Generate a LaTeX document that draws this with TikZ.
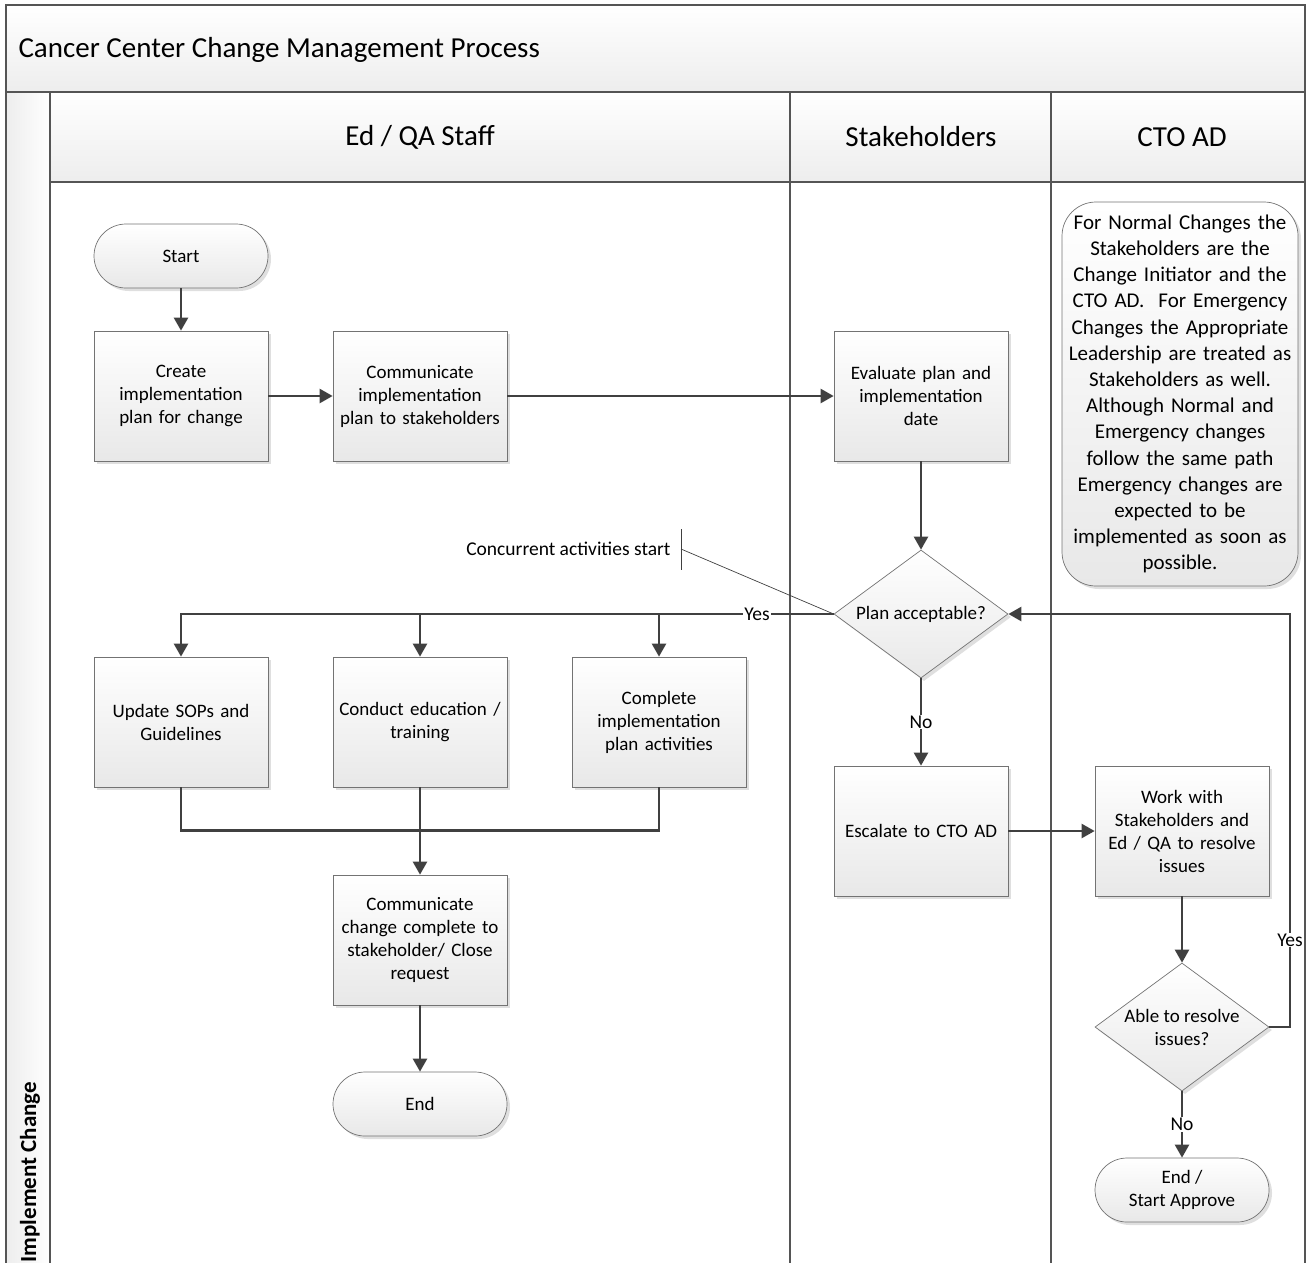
\documentclass[tikz,border=0pt]{standalone}
\usepackage{fontspec}
\setmainfont{Carlito}
\usetikzlibrary{shapes.geometric,arrows.meta,shadows}
\definecolor{linec}{HTML}{404040}
\definecolor{framec}{HTML}{555555}
\begin{document}
\begin{tikzpicture}[x=1pt,y=-1pt,
  frame/.style={draw=framec, line width=1.3pt},
  box/.style={draw=black!55, line width=0.7pt, top color=white, bottom color=black!9,
    drop shadow={shadow xshift=3pt, shadow yshift=-3pt, fill=black!25, opacity=0.5},
    font=\fontsize{19}{23}\selectfont, align=center},
  proc/.style={box, rectangle, minimum width=174pt, minimum height=130pt, text width=172pt, inner sep=1pt},
  term/.style={box, rectangle, rounded corners=32pt, minimum width=174pt, minimum height=64pt},
  dec/.style={box, diamond, minimum width=174pt, minimum height=128pt, inner sep=0pt},
  conn/.style={draw=linec, line width=2.4pt},
  arr/.style={conn, -{Triangle[length=13pt,width=14pt]}},
  lbl/.style={font=\fontsize{19.5}{22}\selectfont, fill=white, inner sep=1pt},
  hdr/.style={font=\fontsize{29}{34}\selectfont}
]
\useasboundingbox (0,0) rectangle (1306,1262);
\clip (0,0) rectangle (1306,1262);
% frame
\shade[top color=white, bottom color=black!7] (6,5) rectangle (1305,92);
\shade[top color=white, bottom color=black!7] (50,92) rectangle (1305,182);
\shade[left color=black!7, right color=white] (6,92) rectangle (50,1300);
\draw[frame] (6,5) rectangle (1305,1300);
\draw[frame] (6,92) -- (1305,92);
\draw[frame] (50,92) -- (50,1300);
\draw[frame] (50,182) -- (1305,182);
\draw[frame] (790,92) -- (790,1300);
\draw[frame] (1051,92) -- (1051,1300);
\node[anchor=west, font=\fontsize{29}{34}\selectfont] (title) at (15,50) {Cancer Center Change Management Process};
\node[hdr] (h1) at (420,137) {Ed / QA Staff};
\node[hdr] (h2) at (921,137) {Stakeholders};
\node[hdr] (h3) at (1182,137) {CTO AD};
\node[rotate=90, font=\fontsize{23}{26}\bfseries\selectfont] (lane) at (30,1172) {Implement Change};

% nodes
\node[term] (start) at (181,256) {Start};
\node[proc] (create) at (181,396) {Create\\implementation\\plan for change};
\node[proc] (comm) at (420,396) {Communicate\\implementation\\plan to stakeholders};
\node[proc] (eval) at (921,396) {Evaluate plan and\\implementation\\date};
\node[dec, label={[font=\fontsize{19}{23}\selectfont]center:Plan acceptable?}] (acc) at (921,614) {};
\node[proc] (upd) at (181,722) {Update SOPs and\\Guidelines};
\node[proc] (cond) at (420,722) {Conduct education /\\training};
\node[proc] (compl) at (659,722) {Complete\\implementation\\plan activities};
\node[proc] (commc) at (420,940) {Communicate\\change complete to\\stakeholder/ Close\\request};
\node[term] (end) at (420,1104) {End};
\node[proc] (esc) at (921,831) {Escalate to CTO AD};
\node[proc] (work) at (1182,831) {Work with\\Stakeholders and\\Ed / QA to resolve\\issues};
\node[dec, label={[align=center, font=\fontsize{19}{23}\selectfont]center:Able to resolve\\issues?}] (able) at (1182,1027) {};
\node[term] (endsa) at (1182,1190) {End /\\Start Approve};
\node[box, rectangle, rounded corners=34pt, minimum width=233pt, minimum height=384pt, text width=236pt, inner sep=0pt, font=\fontsize{21}{26.2}\selectfont] (note) at (1180,394)
 {For Normal Changes the\\Stakeholders are the\\Change Initiator and the\\CTO AD.\ \ For Emergency\\Changes the Appropriate\\Leadership are treated as\\Stakeholders as well.\\Although Normal and\\Emergency changes\\follow the same path\\Emergency changes are\\expected to be\\implemented as soon as\\possible.};

% annotation
\node[anchor=east, font=\fontsize{19.5}{22}\selectfont] (ann) at (674,549) {Concurrent activities start};
\coordinate (bt) at (681,529);
\coordinate (bb) at (681,570);
\coordinate (bm) at (681,549);
\draw[draw=linec, line width=0.7pt] (bt) -- (bb);
\draw[draw=linec, line width=0.7pt] (bm) -- (acc.west);

% connectors
\draw[arr] (start) -- (create);
\draw[arr] (create) -- (comm);
\draw[arr] (comm) -- (eval);
\draw[arr] (eval) -- (acc);
\draw[arr] (acc.west) -| (upd.north);
\draw[arr] (cond.north |- acc.west) -- (cond.north);
\draw[arr] (compl.north |- acc.west) -- (compl.north);
\node[lbl] (yes1) at (757,614) {Yes};
\draw[arr] (acc.south) -- node[lbl] (no1) {No} (esc.north);
\draw[arr] (esc) -- (work);
\draw[arr] (work) -- (able);
\coordinate (rt) at (1290,1027);
\draw[arr] (able.east) -- (rt) -- (rt |- acc.east) -- (acc.east);
\node[lbl] (yes2) at (1290,940) {Yes};
\draw[arr] (able.south) -- node[lbl] (no2) {No} (endsa.north);
\draw[conn] (upd.south) -- ++(0,43) -| (compl.south);
\draw[arr] (cond.south) -- (commc.north);
\draw[arr] (commc) -- (end);
\end{tikzpicture}
\end{document}
